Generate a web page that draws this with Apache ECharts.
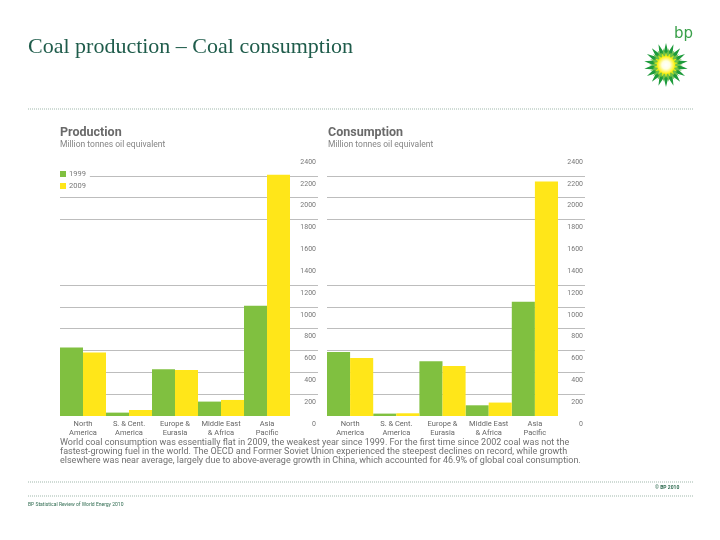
<!DOCTYPE html>
<html>
<head>
<meta charset="utf-8">
<script src="https://cdn.jsdelivr.net/npm/echarts@6/dist/echarts.min.js"></script>
<style>html,body{margin:0;padding:0;background:#fff}#c{width:720px;height:540px}</style>
</head>
<body>
<div id="c"></div>
<script>
const categories = ['North\nAmerica', 'S. & Cent.\nAmerica', 'Europe &\nEurasia', 'Middle East\n& Africa', 'Asia\nPacific'];
const years = ['1999', '2009'];
const production1999 = [627, 31, 428, 132, 1009];
const production2009 = [581, 55, 422, 147, 2209];
const consumption1999 = [587, 22, 502, 98, 1046];
const consumption2009 = [532, 25, 459, 123, 2147];
const yMin = 0, yMax = 2400, yStep = 200;
const bodyText = [
  'World coal consumption was essentially flat in 2009, the weakest year since 1999. For the first time since 2002 coal was not the',
  'fastest-growing fuel in the world. The OECD and Former Soviet Union experienced the steepest declines on record, while growth',
  'elsewhere was near average, largely due to above-average growth in China, which accounted for 46.9% of global coal consumption.'
];

const GREEN = '#80c040', YELLOW = '#ffe619';
const gridColors = ['rgba(0,0,0,0)', '#bdbdbd', '#bdbdbd', '#bdbdbd', '#bdbdbd', '#bdbdbd', '#bdbdbd',
  'rgba(0,0,0,0)', 'rgba(0,0,0,0)', '#bdbdbd', '#bdbdbd', '#bdbdbd', 'rgba(0,0,0,0)'];

const chart = echarts.init(document.getElementById('c'));
const TOP = 154, H = 262;

function lineYAxis(gi) {
  return {
    gridIndex: gi, type: 'value', min: yMin, max: yMax, interval: yStep, position: 'right',
    axisLine: {show: false}, axisTick: {show: false},
    axisLabel: {inside: true, margin: 2, fontSize: 7, color: '#777', fontFamily: 'Roboto',
      verticalAlign: 'top', lineHeight: 16, formatter: v => String(v)},
    splitLine: {show: true, lineStyle: {color: gridColors, width: 1}}
  };
}
function barYAxis(gi) {
  return {gridIndex: gi, type: 'value', min: yMin, max: yMax, interval: yStep, show: false, splitLine: {show: false}};
}
function catXAxis(gi) {
  return {gridIndex: gi, type: 'category', data: categories,
    axisLine: {show: false}, axisTick: {show: false},
    axisLabel: {fontSize: 7.5, color: '#666', lineHeight: 9.5, margin: 3, fontFamily: 'Roboto', interval: 0}};
}
function bar(name, gi, data, color) {
  return {name: name, type: 'bar', xAxisIndex: gi, yAxisIndex: gi, data: data, barGap: '0%', barCategoryGap: '0%',
    itemStyle: {color: color}, silent: true, animation: false};
}

// logo star points
function star(cx, cy, n, rOut, rIn, rot) {
  const pts = [];
  for (let i = 0; i < n * 2; i++) {
    const r = i % 2 === 0 ? rOut : rIn;
    const a = rot + Math.PI * i / n;
    pts.push([cx + r * Math.sin(a), cy - r * Math.cos(a)]);
  }
  return pts;
}
const LX = 666, LY = 65;

chart.setOption({
  animation: false,
  title: [
    {text: 'Production', subtext: 'Million tonnes oil equivalent', left: 60, top: 126, itemGap: 1, padding: 0,
      textStyle: {fontSize: 12.5, fontWeight: 'bold', color: '#6a6a6a', fontFamily: 'Roboto'},
      subtextStyle: {fontSize: 8.5, color: '#858585', fontFamily: 'Roboto'}},
    {text: 'Consumption', subtext: 'Million tonnes oil equivalent', left: 328, top: 126, itemGap: 1, padding: 0,
      textStyle: {fontSize: 12.5, fontWeight: 'bold', color: '#6a6a6a', fontFamily: 'Roboto'},
      subtextStyle: {fontSize: 8.5, color: '#858585', fontFamily: 'Roboto'}}
  ],
  legend: {data: years, left: 60, top: 169, orient: 'vertical', itemWidth: 6, itemHeight: 6, itemGap: 4,
    padding: [1, 4, 1, 0], backgroundColor: '#ffffff',
    icon: 'rect', textStyle: {fontSize: 7.5, color: '#777', fontFamily: 'Roboto', padding: [0, 0, 0, -2]}},
  grid: [
    {left: 60, top: TOP, width: 258, height: H},
    {left: 60, top: TOP, width: 230, height: H},
    {left: 327, top: TOP, width: 258, height: H},
    {left: 327, top: TOP, width: 231, height: H}
  ],
  xAxis: [
    {gridIndex: 0, type: 'value', show: false, splitLine: {show: false}},
    catXAxis(1),
    {gridIndex: 2, type: 'value', show: false, splitLine: {show: false}},
    catXAxis(3)
  ],
  yAxis: [lineYAxis(0), barYAxis(1), lineYAxis(2), barYAxis(3)],
  series: [
    bar(years[0], 1, production1999, GREEN),
    bar(years[1], 1, production2009, YELLOW),
    bar(years[0], 3, consumption1999, GREEN),
    bar(years[1], 3, consumption2009, YELLOW)
  ],
  graphic: [
    {type: 'text', left: 28, top: 36, style: {text: 'Coal production \u2013 Coal consumption',
      font: '22px "Liberation Serif"', fill: '#1f5c4b'}},
    {type: 'line', shape: {x1: 28, y1: 109, x2: 693, y2: 109}, style: {stroke: '#9fb8ab', lineWidth: 1, lineDash: [1, 1]}},
    {type: 'line', shape: {x1: 28, y1: 482, x2: 693, y2: 482}, style: {stroke: '#9fb8ab', lineWidth: 1, lineDash: [1, 1]}},
    {type: 'line', shape: {x1: 28, y1: 496, x2: 693, y2: 496}, style: {stroke: '#9fb8ab', lineWidth: 1, lineDash: [1, 1]}},
    {type: 'text', left: 60, top: 438, style: {text: bodyText.join('\n'), font: '9px Roboto', fill: '#707070', lineHeight: 9}},
    {type: 'text', left: 655, top: 485, style: {text: '\u00a9 BP 2010', font: 'bold 5px Roboto', fill: '#2f6b50'}},
    {type: 'text', left: 28, top: 502, style: {text: 'BP Statistical Review of World Energy 2010', font: '5px Roboto', fill: '#2f6b50'}},
    {type: 'text', left: 674, top: 27, style: {text: 'bp', font: '15px "DejaVu Sans"', fill: '#3aa04a'}},
    {type: 'polygon', shape: {points: star(LX, LY, 18, 22, 13, 0)}, style: {fill: '#1e9b3c'}},
    {type: 'polygon', shape: {points: star(LX, LY, 18, 17, 10, Math.PI / 18)}, style: {fill: '#6cc04a'}},
    {type: 'polygon', shape: {points: star(LX, LY, 18, 13, 8, 0)}, style: {fill: '#d6e61e'}},
    {type: 'circle', shape: {cx: LX, cy: LY, r: 9}, style: {fill: {type: 'radial', x: 0.5, y: 0.5, r: 0.5,
      colorStops: [{offset: 0, color: '#ffffff'}, {offset: 0.45, color: '#ffffe0'}, {offset: 1, color: '#ffee00'}]}}}
  ]
});
</script>
</body>
</html>
